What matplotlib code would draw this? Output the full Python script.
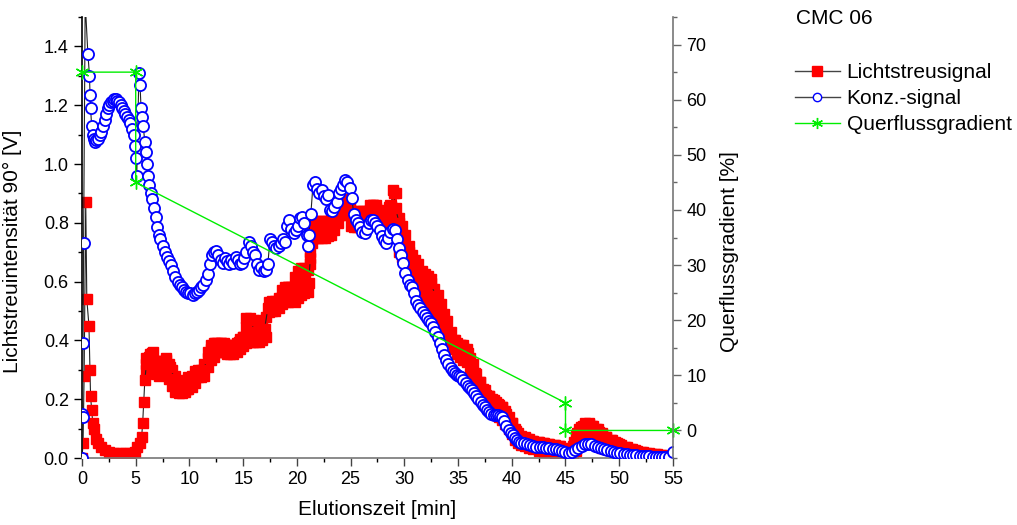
import matplotlib
matplotlib.use("Agg")
import matplotlib.pyplot as plt
from matplotlib.lines import Line2D
from matplotlib.ticker import MultipleLocator, FormatStrFormatter

plt.rcParams['font.family'] = ['Liberation Sans', 'DejaVu Sans']

# Lichtstreusignal (left axis, V) - trace through the middle of the band
licht_t = [0.0, 0.1, 0.2, 0.35, 0.45, 0.65, 0.75, 0.8, 0.9, 1.0, 1.1, 1.3, 1.5, 1.8, 2.1, 2.5,
           3.0, 3.5, 4.0, 4.5, 4.9, 5.1, 5.4, 5.55, 5.65, 5.75, 5.85, 6.0, 6.25, 6.5, 6.8, 7.1,
           7.4, 7.8, 8.2, 8.6, 9.0, 9.4, 9.8, 10.3, 10.8, 11.3, 11.7, 12.0, 12.4, 12.9, 13.3,
           13.8, 14.2, 14.6, 15.0, 15.3, 15.6, 16.1, 16.6, 17.0, 17.3, 17.7, 18.0, 18.5, 18.9,
           19.2, 19.5, 19.8, 20.1, 20.5, 20.8, 21.1, 21.25, 21.4, 21.8, 22.2, 22.6, 23.0, 23.4,
           23.7, 24.0, 24.3, 24.6, 24.9, 25.25, 25.6, 25.9, 26.2, 26.5, 26.8, 27.1, 27.4, 27.7,
           28.0, 28.3, 28.7, 29.0, 29.2, 29.5, 29.8, 30.1, 30.4, 30.7, 31.0, 31.3, 31.6, 32.0,
           32.5, 32.9, 33.2, 33.5, 33.8, 34.2, 34.7, 35.3, 35.6, 35.95, 36.3, 36.6, 37.0, 37.5,
           37.9, 38.3, 38.7, 39.1, 39.5, 40.0, 40.4, 40.9, 41.4, 41.9, 42.4, 42.9, 43.4, 43.9,
           44.4, 44.8, 45.2, 45.5, 45.8, 46.1, 46.4, 46.8, 47.2, 47.6, 48.0, 48.4, 48.8, 49.3,
           49.8, 50.2, 50.7, 51.2, 51.7, 52.2, 52.8, 53.3, 53.9, 54.5]
licht_v = [0.0, 0.05, 0.28, 0.87, 0.54, 0.45, 0.30, 0.21, 0.165, 0.12, 0.10, 0.065, 0.05, 0.038,
           0.028, 0.021, 0.018, 0.017, 0.017, 0.017, 0.02, 0.038, 0.05, 0.07, 0.12, 0.19, 0.265,
           0.32, 0.345, 0.356, 0.33, 0.29, 0.32, 0.335, 0.31, 0.27, 0.245, 0.232, 0.235, 0.26,
           0.285, 0.30, 0.34, 0.37, 0.39, 0.39, 0.385, 0.38, 0.378, 0.395, 0.41, 0.445, 0.47,
           0.43, 0.44, 0.44, 0.51, 0.52, 0.53, 0.545, 0.56, 0.58, 0.57, 0.575, 0.60, 0.635, 0.62,
           0.595, 0.68, 0.73, 0.786, 0.786, 0.786, 0.795, 0.805, 0.82, 0.845, 0.865, 0.88, 0.85,
           0.81, 0.82, 0.826, 0.82, 0.82, 0.845, 0.86, 0.85, 0.837, 0.83, 0.826, 0.86, 0.90, 0.85,
           0.80, 0.76, 0.72, 0.70, 0.67, 0.64, 0.625, 0.615, 0.605, 0.594, 0.55, 0.514, 0.48,
           0.446, 0.42, 0.40, 0.384, 0.37, 0.356, 0.32, 0.288, 0.26, 0.231, 0.21, 0.197, 0.185,
           0.174, 0.15, 0.118, 0.093, 0.072, 0.066, 0.058, 0.053, 0.05, 0.048, 0.044, 0.04, 0.034,
           0.024, 0.03, 0.055, 0.085, 0.105, 0.118, 0.118, 0.11, 0.097, 0.084, 0.073, 0.062, 0.052,
           0.044, 0.036, 0.03, 0.025, 0.02, 0.016, 0.014, 0.01, 0.006]

# Lichtstreusignal noise band (upper / lower edge of the scattered points)
band_t = [6.0, 6.3, 6.6, 6.9, 7.2, 7.5, 7.8, 8.1, 8.4, 8.7, 9.0, 9.3, 9.6, 9.9, 10.2, 10.5,
          10.8, 11.1, 11.4, 11.7, 12.0, 12.3, 12.6, 12.9, 13.2, 13.5, 13.8, 14.1, 14.4, 14.7,
          15.0, 15.3, 15.6, 15.9, 16.2, 16.5, 16.8, 17.1, 17.4, 17.7, 18.0, 18.3, 18.6, 18.9,
          19.2, 19.5, 19.8, 20.1, 20.4, 20.7, 21.0, 21.2, 21.4, 21.7, 22.0, 22.3, 22.6, 22.9,
          23.2, 23.5, 23.8, 24.1, 24.4, 24.7, 25.0, 25.3, 25.6, 25.9, 26.2, 26.5, 26.8, 27.1,
          27.4, 27.7, 28.0, 28.3, 28.6, 28.9, 29.2, 29.5, 29.8, 30.1, 30.4, 30.7, 31.0, 31.3,
          31.6, 31.9, 32.2, 32.5, 32.8, 33.1, 33.4, 33.7, 34.0, 34.3, 34.6, 34.9, 35.2, 35.5,
          35.8, 36.1, 36.4, 36.7, 37.0, 37.3, 37.6, 37.9, 38.2, 38.5, 38.8, 39.1, 39.4, 39.7,
          40.0, 40.3, 40.6, 40.9, 41.2, 41.6, 42.0, 42.5, 43.0, 43.5, 44.0, 44.5, 45.0, 45.4,
          45.7, 46.0, 46.3, 46.6, 46.9, 47.2, 47.5, 47.8, 48.1, 48.4, 48.8, 49.2, 49.6, 50.0,
          50.5, 51.0, 51.5, 52.0, 52.5, 53.0, 53.5, 54.0, 54.5]
band_hi = [0.34, 0.355, 0.36, 0.33, 0.31, 0.33, 0.34, 0.32, 0.30, 0.28, 0.26, 0.26, 0.265, 0.275,
           0.28, 0.295, 0.30, 0.30, 0.32, 0.36, 0.385, 0.39, 0.39, 0.39, 0.39, 0.385, 0.385, 0.385,
           0.39, 0.405, 0.41, 0.475, 0.475, 0.47, 0.465, 0.465, 0.47, 0.48, 0.53, 0.535, 0.535,
           0.545, 0.57, 0.58, 0.58, 0.58, 0.615, 0.635, 0.645, 0.645, 0.64, 0.70, 0.80, 0.805,
           0.805, 0.805, 0.805, 0.805, 0.81, 0.825, 0.855, 0.86, 0.865, 0.86, 0.84, 0.835, 0.84,
           0.84, 0.84, 0.84, 0.86, 0.86, 0.86, 0.845, 0.84, 0.84, 0.855, 0.91, 0.90, 0.815, 0.79,
           0.76, 0.72, 0.69, 0.675, 0.66, 0.635, 0.625, 0.62, 0.61, 0.575, 0.555, 0.525, 0.49,
           0.465, 0.43, 0.40, 0.39, 0.385, 0.385, 0.37, 0.34, 0.32, 0.285, 0.26, 0.235, 0.215,
           0.21, 0.20, 0.19, 0.18, 0.175, 0.16, 0.14, 0.12, 0.10, 0.085, 0.075, 0.07, 0.063,
           0.057, 0.053, 0.05, 0.048, 0.045, 0.04, 0.028, 0.022, 0.04, 0.075, 0.10, 0.11, 0.115,
           0.115, 0.108, 0.098, 0.088, 0.08, 0.07, 0.062, 0.055, 0.046, 0.038, 0.032, 0.027,
           0.022, 0.018, 0.015, 0.012, 0.009, 0.006]
band_lo = [0.30, 0.31, 0.31, 0.285, 0.28, 0.29, 0.29, 0.27, 0.245, 0.225, 0.22, 0.22, 0.225,
           0.235, 0.24, 0.255, 0.275, 0.275, 0.28, 0.31, 0.335, 0.345, 0.36, 0.36, 0.36, 0.355,
           0.355, 0.355, 0.36, 0.37, 0.38, 0.39, 0.395, 0.395, 0.395, 0.395, 0.40, 0.41, 0.495,
           0.50, 0.50, 0.51, 0.525, 0.53, 0.53, 0.535, 0.53, 0.545, 0.555, 0.56, 0.565, 0.66,
           0.745, 0.75, 0.75, 0.75, 0.75, 0.755, 0.76, 0.775, 0.80, 0.825, 0.83, 0.825, 0.79,
           0.785, 0.785, 0.785, 0.785, 0.79, 0.80, 0.80, 0.80, 0.79, 0.785, 0.785, 0.785, 0.79,
           0.76, 0.70, 0.685, 0.675, 0.64, 0.61, 0.59, 0.585, 0.57, 0.555, 0.54, 0.52, 0.49,
           0.465, 0.44, 0.42, 0.405, 0.395, 0.37, 0.355, 0.345, 0.335, 0.325, 0.29, 0.27, 0.245,
           0.225, 0.215, 0.19, 0.17, 0.16, 0.145, 0.14, 0.13, 0.115, 0.10, 0.08, 0.06, 0.05,
           0.045, 0.04, 0.035, 0.03, 0.025, 0.022, 0.02, 0.018, 0.016, 0.012, 0.01, 0.015, 0.025,
           0.04, 0.05, 0.055, 0.055, 0.05, 0.045, 0.04, 0.035, 0.03, 0.027, 0.024, 0.02, 0.016,
           0.013, 0.01, 0.008, 0.007, 0.006, 0.005, 0.004, 0.003]

# Konz.-signal (left axis, V)
konz_t = [0.0, 0.02, 0.05, 0.1, 0.15, 0.3, 0.55, 0.7, 0.75, 0.8, 0.9, 1.0, 1.1, 1.2, 1.35, 1.5,
          1.65, 1.8, 1.95, 2.1, 2.25, 2.4, 2.55, 2.7, 2.85, 3.0, 3.15, 3.3, 3.45, 3.6, 3.75, 3.9,
          4.05, 4.2, 4.35, 4.5, 4.65, 4.8, 4.9, 5.0, 5.1, 5.3, 5.4, 5.5, 5.6, 5.7, 5.85, 5.95,
          6.05, 6.15, 6.25, 6.4, 6.55, 6.7, 6.85, 7.0, 7.15, 7.3, 7.5, 7.7, 7.9, 8.1, 8.3, 8.5,
          8.7, 8.9, 9.1, 9.3, 9.5, 9.7, 9.9, 10.1, 10.3, 10.5, 10.7, 10.9, 11.1, 11.3, 11.5, 11.7,
          11.9, 12.1, 12.3, 12.5, 12.7, 12.9, 13.1, 13.3, 13.5, 13.7, 13.9, 14.1, 14.3, 14.5,
          14.7, 14.9, 15.1, 15.3, 15.5, 15.7, 15.9, 16.1, 16.3, 16.5, 16.7, 16.9, 17.1, 17.3,
          17.5, 17.7, 17.9, 18.1, 18.3, 18.5, 18.7, 18.9, 19.1, 19.3, 19.5, 19.7, 19.9, 20.1,
          20.3, 20.5, 20.7, 20.9, 21.0, 21.1, 21.3, 21.5, 21.7, 21.9, 22.1, 22.3, 22.5, 22.7,
          22.9, 23.1, 23.3, 23.5, 23.7, 23.9, 24.1, 24.3, 24.5, 24.7, 24.9, 25.1, 25.3, 25.5,
          25.7, 25.9, 26.1, 26.3, 26.5, 26.7, 26.9, 27.1, 27.3, 27.5, 27.7, 27.9, 28.1, 28.3,
          28.5, 28.7, 28.9, 29.1, 29.3, 29.5, 29.7, 29.9, 30.1, 30.3, 30.5, 30.7, 30.9, 31.1,
          31.3, 31.5, 31.7, 31.9, 32.1, 32.3, 32.5, 32.7, 32.9, 33.1, 33.3, 33.5, 33.7, 33.9,
          34.1, 34.3, 34.5, 34.7, 34.9, 35.1, 35.3, 35.5, 35.7, 35.9, 36.1, 36.3, 36.5, 36.7,
          36.9, 37.1, 37.3, 37.5, 37.7, 37.9, 38.1, 38.3, 38.5, 38.7, 38.9, 39.1, 39.3, 39.5,
          39.7, 39.9, 40.1, 40.3, 40.5, 40.7, 40.9, 41.1, 41.4, 41.7, 42.0, 42.3, 42.6, 42.9,
          43.2, 43.5, 43.8, 44.1, 44.4, 44.7, 45.0, 45.3, 45.6, 45.9, 46.2, 46.5, 46.8, 47.1,
          47.4, 47.7, 48.0, 48.3, 48.6, 48.9, 49.2, 49.5, 49.8, 50.1, 50.4, 50.7, 51.0, 51.3,
          51.6, 51.9, 52.2, 52.5, 52.8, 53.1, 53.4, 53.7, 54.0, 54.3, 54.6, 55.0]
konz_v = [0.0, 0.15, 0.14, 0.39, 0.73, 1.55, 1.375, 1.30, 1.235, 1.19, 1.13, 1.10, 1.085, 1.075,
          1.08, 1.085, 1.10, 1.11, 1.13, 1.15, 1.17, 1.19, 1.20, 1.21, 1.215, 1.22, 1.22, 1.215,
          1.21, 1.20, 1.19, 1.18, 1.17, 1.16, 1.15, 1.14, 1.12, 1.10, 1.06, 1.02, 0.96, 1.31,
          1.27, 1.19, 1.16, 1.13, 1.075, 1.04, 1.0, 0.96, 0.93, 0.90, 0.88, 0.85, 0.82, 0.785,
          0.76, 0.745, 0.72, 0.70, 0.685, 0.67, 0.655, 0.635, 0.615, 0.60, 0.59, 0.58, 0.57,
          0.565, 0.56, 0.56, 0.555, 0.56, 0.565, 0.57, 0.58, 0.59, 0.605, 0.625, 0.66, 0.69, 0.70,
          0.705, 0.69, 0.675, 0.665, 0.68, 0.67, 0.66, 0.675, 0.665, 0.685, 0.675, 0.66, 0.665,
          0.68, 0.70, 0.735, 0.72, 0.70, 0.69, 0.66, 0.64, 0.65, 0.635, 0.64, 0.66, 0.745, 0.735,
          0.72, 0.715, 0.72, 0.73, 0.745, 0.735, 0.79, 0.81, 0.78, 0.765, 0.775, 0.79, 0.815,
          0.82, 0.80, 0.76, 0.72, 0.76, 0.83, 0.93, 0.94, 0.915, 0.90, 0.91, 0.89, 0.88, 0.895,
          0.845, 0.84, 0.855, 0.87, 0.90, 0.915, 0.93, 0.945, 0.94, 0.92, 0.885, 0.83, 0.81,
          0.80, 0.785, 0.77, 0.765, 0.78, 0.80, 0.81, 0.81, 0.80, 0.79, 0.775, 0.755, 0.74, 0.73,
          0.75, 0.77, 0.78, 0.775, 0.745, 0.715, 0.69, 0.665, 0.63, 0.605, 0.59, 0.58, 0.56,
          0.535, 0.52, 0.51, 0.495, 0.485, 0.475, 0.465, 0.458, 0.445, 0.43, 0.41, 0.39, 0.37,
          0.35, 0.335, 0.32, 0.305, 0.295, 0.288, 0.282, 0.278, 0.274, 0.265, 0.255, 0.245,
          0.238, 0.23, 0.22, 0.21, 0.20, 0.19, 0.182, 0.172, 0.165, 0.155, 0.148, 0.145, 0.145,
          0.145, 0.143, 0.14, 0.125, 0.108, 0.095, 0.085, 0.078, 0.068, 0.06, 0.055, 0.052, 0.05,
          0.047, 0.043, 0.04, 0.038, 0.037, 0.036, 0.035, 0.034, 0.032, 0.03, 0.027, 0.024, 0.02,
          0.018, 0.02, 0.028, 0.035, 0.042, 0.046, 0.048, 0.046, 0.042, 0.037, 0.033, 0.029,
          0.026, 0.023, 0.02, 0.018, 0.016, 0.014, 0.012, 0.011, 0.01, 0.009, 0.008, 0.007,
          0.006, 0.006, 0.005, 0.005, 0.004, 0.004, 0.003, 0.003, 0.02]

# Querflussgradient (right axis, %)
quer_t = [0, 5, 5, 45, 45, 55]
quer_v = [65, 65, 45, 5, 0, 0]

RED = '#ff0000'
BLUE = '#0000ff'
GREEN = '#00ee00'

fig = plt.figure(figsize=(10.17, 5.25), dpi=100)
ax = fig.add_axes([0.0806, 0.1276, 0.5811, 0.84])
ax2 = ax.twinx()

# red band: filled between the scatter edges, squares along both edges
ax.fill_between(band_t, band_lo, band_hi, color=RED, lw=0, zorder=2)
for edge in (band_hi, band_lo):
    ax.plot(band_t, edge, ls='none', marker='s', markersize=6.5,
            markerfacecolor=RED, markeredgecolor=RED, zorder=2)
ax.plot(licht_t, licht_v, color='#222222', lw=0.8, marker='s', markersize=6.5,
        markerfacecolor=RED, markeredgecolor=RED, zorder=2)
ax.plot(konz_t, konz_v, color='#222222', lw=0.8, marker='o', markersize=8,
        markerfacecolor='white', markeredgecolor=BLUE, markeredgewidth=1.3, zorder=3)
ax2.plot(quer_t, quer_v, color=GREEN, lw=1.0, marker=(6, 2, 0), markersize=10,
         markeredgecolor=GREEN, markeredgewidth=1.0, clip_on=False)

ax.set_xlim(0, 55)
ax.set_ylim(0, 1.5)
ax2.set_ylim(-5, 75)

ax.xaxis.set_major_locator(MultipleLocator(5))
ax.xaxis.set_minor_locator(MultipleLocator(2.5))
ax.yaxis.set_major_locator(MultipleLocator(0.2))
ax.yaxis.set_minor_locator(MultipleLocator(0.1))
ax.yaxis.set_major_formatter(FormatStrFormatter('%.1f'))
ax2.yaxis.set_major_locator(MultipleLocator(10))
ax2.yaxis.set_minor_locator(MultipleLocator(5))

for a in (ax, ax2):
    a.spines['top'].set_visible(False)
ax.spines['right'].set_visible(False)
ax2.spines['left'].set_visible(False)
ax2.spines['bottom'].set_visible(False)
ax.spines['left'].set_color('black')
ax.spines['bottom'].set_color('#777777')
ax2.spines['right'].set_color('#777777')
for s in ('left', 'bottom'):
    ax.spines[s].set_linewidth(1.2)
ax2.spines['right'].set_linewidth(1.2)

ax.tick_params(axis='both', which='major', direction='out', length=6, width=1, labelsize=13)
ax.tick_params(axis='both', which='minor', direction='out', length=3, width=1)
ax.tick_params(axis='x', colors='#444444', labelcolor='black')
ax2.tick_params(axis='y', which='major', direction='out', length=6, width=1, labelsize=13,
                colors='#666666', labelcolor='black')
ax2.tick_params(axis='y', which='minor', direction='out', length=3, width=1, colors='#666666')

ax.set_xlabel('Elutionszeit [min]', fontsize=15)
ax.xaxis.set_label_coords(0.5, -0.095)
ax.set_ylabel('Lichtstreuintensität 90° [V]', fontsize=15)
ax.yaxis.set_label_coords(-0.102, 0.469)
ax2.set_ylabel('Querflussgradient [%]', fontsize=15)
ax2.yaxis.set_label_coords(1.08, 0.469)

fig.text(796 / 1017, 1 - 18 / 525, 'CMC 06', fontsize=15, va='center', ha='left')

handles = [
    Line2D([], [], color='#444444', lw=1, marker='s', markersize=6.5,
           markerfacecolor=RED, markeredgecolor=RED),
    Line2D([], [], color='#444444', lw=1, marker='o', markersize=6,
           markerfacecolor='white', markeredgecolor=BLUE),
    Line2D([], [], color=GREEN, lw=1, marker=(6, 2, 0), markersize=8,
           markeredgecolor=GREEN),
]
labels = ['Lichtstreusignal', 'Konz.-signal', 'Querflussgradient']
fig.legend(handles, labels, loc='upper left', bbox_to_anchor=(795 / 1017, 1 - 63 / 525),
           frameon=False, fontsize=15, handlelength=2.15, handletextpad=0.33,
           labelspacing=0.34, borderaxespad=0, borderpad=0)

fig.savefig('out.png', dpi=100)
